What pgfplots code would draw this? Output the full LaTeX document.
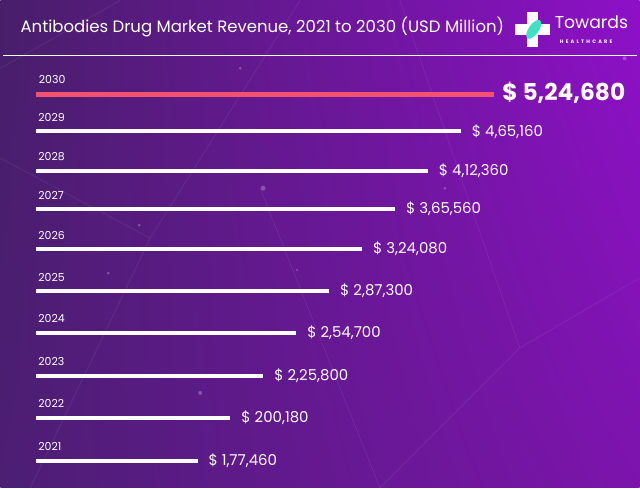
\documentclass[border=0pt]{standalone}
\usepackage{fontspec}
\setmainfont{Poppins}
\usepackage{pgfplots}
\pgfplotsset{compat=1.18}
\usetikzlibrary{shadings}
\definecolor{bgTL}{RGB}{72,30,106}
\definecolor{bgTR}{RGB}{142,16,200}
\definecolor{bgBL}{RGB}{76,30,116}
\definecolor{bgBR}{RGB}{124,20,172}
\definecolor{barpink}{RGB}{242,82,112}
\definecolor{leaf}{RGB}{64,224,196}
\newcommand{\xs}{98400}
\tikzset{
  yearlab/.style={pos=0, anchor=south west, yshift=8bp, text=white, inner sep=0pt, font=\fontsize{11}{12}\selectfont},
  vallab/.style={pos=1, anchor=west, xshift=9bp, text=white, inner sep=0pt, font=\fontsize{15}{17}\selectfont}}
\begin{document}
\begin{tikzpicture}[x=1bp,y=1bp]
% background
\shade[upper left=bgTL, upper right=bgTR, lower left=bgBL, lower right=bgBR] (0,0) rectangle (640,488);
% faint network decoration
\begin{scope}[white, opacity=0.07, line width=0.8bp]
\draw (0,420) -- (120,488);
\draw (30,0) -- (150,250) -- (0,330);
\draw (150,250) -- (300,488);
\draw (260,300) -- (380,0);
\draw (380,0) -- (520,140);
\draw (520,140) -- (640,210);
\draw (400,488) -- (520,140);
\end{scope}
\begin{scope}[white, opacity=0.25]
\fill (263,300) circle (2.5);
\fill (200,95) circle (2);
\fill (139,263) circle (1.5);
\fill (108,215) circle (1.5);
\fill (240,420) circle (1.5);
\fill (625,430) circle (2);
\fill (445,300) circle (1.5);
\fill (297,218) circle (1.2);
\end{scope}
% title
\node[anchor=west, text=white, inner sep=0pt, font=\fontsize{16.6}{19}\selectfont] at (20,461) {Antibodies Drug Market Revenue, 2021 to 2030 (USD Million)};
\draw[white, line width=1.2bp] (3,433) -- (637,433);
% logo
\fill[white] (527,441) rectangle (538,476);
\fill[white] (515,453) rectangle (550,464);
\fill[leaf] (534,459) ellipse [x radius=5, y radius=11, rotate=-35];
\node[anchor=west, text=white, inner sep=0pt, font=\fontsize{17.3}{20}\selectfont] at (555,466) {Towards};
\node[anchor=west, text=white, inner sep=0pt, font=\fontsize{5}{6}\bfseries\selectfont\addfontfeatures{LetterSpace=45}] at (560,447) {HEALTHCARE};
\begin{axis}[at={(36bp,27bp)}, anchor=south west, scale only axis,
  width=458bp, height=367bp, xmode=log, xmin=\xs, xmax=524680, ymin=94, ymax=461,
  y dir=reverse, hide axis, clip=false]
\addplot[barpink, line width=5bp] coordinates {(\xs,94) (524680,94)}
  node[yearlab] {2030}
  node[pos=1, anchor=west, xshift=6bp, yshift=1bp, text=white, inner sep=0pt, font=\fontsize{23.4}{28}\bfseries\selectfont] {\$ 5,24,680};
\addplot[white, line width=4bp] coordinates {(\xs,131) (465160,131)}
  node[yearlab] {2029} node[vallab] {\$ 4,65,160};
\addplot[white, line width=4bp] coordinates {(\xs,171) (412360,171)}
  node[yearlab] {2028} node[vallab] {\$ 4,12,360};
\addplot[white, line width=4bp] coordinates {(\xs,209) (365560,209)}
  node[yearlab] {2027} node[vallab] {\$ 3,65,560};
\addplot[white, line width=4bp] coordinates {(\xs,249) (324080,249)}
  node[yearlab] {2026} node[vallab] {\$ 3,24,080};
\addplot[white, line width=4bp] coordinates {(\xs,291) (287300,291)}
  node[yearlab] {2025} node[vallab] {\$ 2,87,300};
\addplot[white, line width=4bp] coordinates {(\xs,333) (254700,333)}
  node[yearlab] {2024} node[vallab] {\$ 2,54,700};
\addplot[white, line width=4bp] coordinates {(\xs,376) (225800,376)}
  node[yearlab] {2023} node[vallab] {\$ 2,25,800};
\addplot[white, line width=4bp] coordinates {(\xs,418) (200180,418)}
  node[yearlab] {2022} node[vallab] {\$ 200,180};
\addplot[white, line width=4bp] coordinates {(\xs,461) (177460,461)}
  node[yearlab] {2021} node[vallab] {\$ 1,77,460};
\end{axis}
\end{tikzpicture}
\end{document}
